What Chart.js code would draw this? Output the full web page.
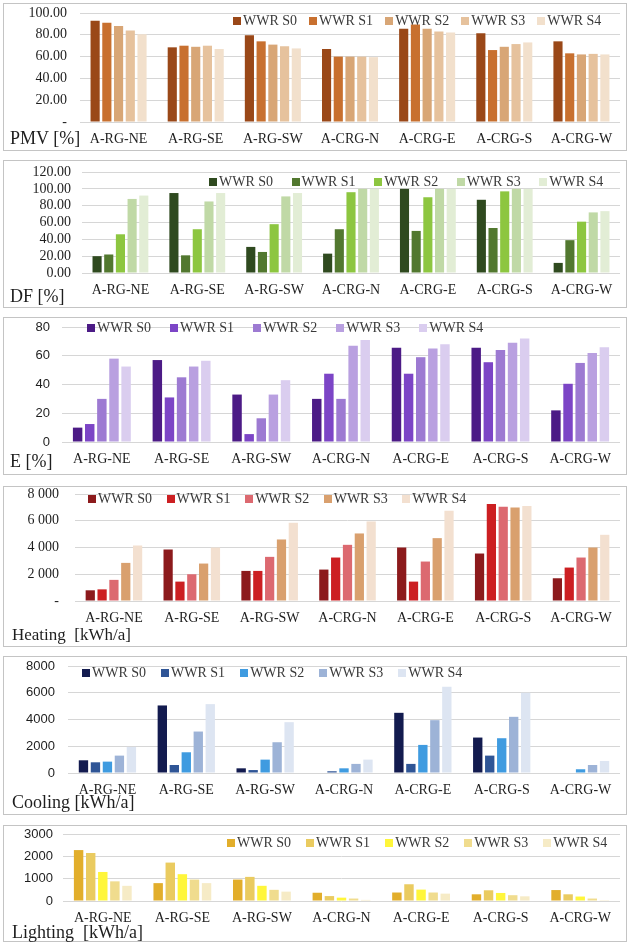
<!DOCTYPE html>
<html>
<head>
<meta charset="utf-8">
<script src="https://cdn.jsdelivr.net/npm/chart.js@4.4.1/dist/chart.umd.min.js"></script>
<style>
  body { margin: 0; background: #fff; width: 631px; height: 942px; position: relative; overflow: hidden; }
  .box { position: absolute; border: 1px solid #c4c4c4; box-sizing: border-box; }
  canvas { position: absolute; }
  .axisName { position: absolute; font-family: "Liberation Serif", serif; color: #1e1e1e; white-space: pre; line-height: 1; }
  .legend { position: absolute; display: flex; align-items: center; font: 14px "Liberation Serif", serif; color: #3a3a3a; white-space: nowrap; line-height: 1; }
  .legend .item { display: flex; align-items: center; }
  .legend .sw { width: 8px; height: 8px; margin-right: 2px; }
</style>
</head>
<body>
<script>
// Categories and series
const categories = ['A-RG-NE', 'A-RG-SE', 'A-RG-SW', 'A-CRG-N', 'A-CRG-E', 'A-CRG-S', 'A-CRG-W'];
const seriesNames = ['WWR S0', 'WWR S1', 'WWR S2', 'WWR S3', 'WWR S4'];

// PMV [%] — one row per WWR series, one value per category
const pmvValues = [
  [93, 68.5, 79.5, 67, 85.5, 81.5, 74],
  [91, 70, 74, 60, 89.5, 66, 63],
  [88, 69, 71, 60, 85.5, 69, 62],
  [84, 70, 69.5, 60, 83, 71.5, 62.5],
  [80.5, 67, 67.5, 59.5, 82, 73, 62]
];
// DF [%]
const dfValues = [
  [20, 95, 31, 23, 100, 87, 12],
  [22, 21, 25, 52, 50, 53.5, 39],
  [46, 52, 58, 96, 90, 97, 61],
  [88, 85, 91, 100, 100, 100, 72],
  [92, 95, 95, 100, 100, 100, 73.5]
];
// E [%]
const eValues = [
  [10, 57, 33, 30, 65.5, 65.5, 22],
  [12.5, 31, 5.5, 47.5, 47.5, 55.5, 40.5],
  [30, 45, 16.5, 30, 59, 64, 55],
  [58, 52.5, 33, 67, 65, 69, 62],
  [52.5, 56.5, 43, 71, 68, 72, 66]
];
// Heating [kWh/a]
const heatingValues = [
  [800, 3850, 2250, 2350, 4000, 3550, 1700],
  [870, 1450, 2250, 3250, 1450, 7250, 2500],
  [1580, 2000, 3300, 4200, 2950, 7050, 3250],
  [2850, 2800, 4600, 5050, 4700, 7000, 4000],
  [4150, 4000, 5850, 5950, 6750, 7100, 4950]
];
// Cooling [kWh/a]
const coolingValues = [
  [950, 5050, 350, 0, 4500, 2650, 0],
  [800, 600, 220, 130, 680, 1300, 0],
  [850, 1550, 1000, 350, 2100, 2600, 280],
  [1300, 3100, 2300, 680, 3950, 4200, 600],
  [1950, 5150, 3800, 1000, 6450, 6000, 900]
];
// Lighting [kWh/a]
const lightingValues = [
  [2280, 800, 960, 370, 380, 300, 490],
  [2150, 1720, 1080, 220, 750, 480, 300],
  [1300, 1200, 680, 150, 510, 360, 200],
  [880, 960, 500, 110, 380, 260, 110],
  [680, 800, 420, 50, 330, 210, 40]
];

// Palettes
const pmvColors = ['#9a4818', '#c8702f', '#d8a676', '#e6c29d', '#f2e0cc'];
const dfColors = ['#2f4a1f', '#52782f', '#8dc640', '#c0d9a6', '#e2edd5'];
const eColors = ['#4c1b86', '#7c45c6', '#9d7ad2', '#b9a0e0', '#dacdef'];
const heatingColors = ['#8c1a1c', '#cc1f22', '#dc6970', '#d9a06e', '#f3e0d0'];
const coolingColors = ['#131b4f', '#2f5596', '#3f9be0', '#9db3d7', '#dde5f2'];
const lightingColors = ['#e2ae2b', '#eacb60', '#fff63a', '#f0dc8e', '#f6ebc6'];

// Tick label formats
const fmt2 = v => v === 0 ? '-' : v.toFixed(2);
const fmt2zero = v => v.toFixed(2);
const fmtInt = v => String(v);
const fmtSpace = v => v === 0 ? '-' : String(v).replace(/\B(?=(\d{3})+(?!\d))/g, ' ');

const panels = [
  { name: 'PMV [%]', values: pmvValues, colors: pmvColors, max: 100, step: 20, fmt: fmt2,
    box: [3, 3, 624, 148], plot: [80, 13, 620, 122], yFont: 'Liberation Serif', yPad: 13,
    nameAt: [10, 129, 18], legendAt: [233, 21], legendGap: 12 },
  { name: 'DF [%]', values: dfValues, colors: dfColors, max: 120, step: 20, fmt: fmt2zero,
    box: [3, 160, 624, 148], plot: [82, 172, 620, 273], yFont: 'Liberation Serif', yPad: 11,
    nameAt: [10, 287, 18], legendAt: [209, 182], legendGap: 18.5 },
  { name: 'E [%]', values: eValues, colors: eColors, max: 80, step: 20, fmt: fmtInt,
    box: [3, 317, 624, 158], plot: [62, 327, 620, 442], yFont: 'Liberation Sans', yPad: 12,
    nameAt: [10, 452, 18], legendAt: [87, 328], legendGap: 19 },
  { name: 'Heating  [kWh/a]', values: heatingValues, colors: heatingColors, max: 8000, step: 2000, fmt: fmtSpace,
    box: [3, 486, 624, 161], plot: [75, 494, 620, 601], yFont: 'Liberation Serif', yPad: 16,
    nameAt: [12, 626, 17], legendAt: [88, 499], legendGap: 14.5 },
  { name: 'Cooling [kWh/a]', values: coolingValues, colors: coolingColors, max: 8000, step: 2000, fmt: fmtInt,
    box: [3, 656, 624, 159], plot: [68, 666, 620, 773], yFont: 'Liberation Sans', yPad: 13,
    nameAt: [12, 793, 18], legendAt: [82, 673], legendGap: 15 },
  { name: 'Lighting  [kWh/a]', values: lightingValues, colors: lightingColors, max: 3000, step: 1000, fmt: fmtInt,
    box: [3, 825, 624, 117], plot: [63, 834, 620, 901], yFont: 'Liberation Sans', yPad: 10,
    nameAt: [12, 923, 18], legendAt: [227, 843], legendGap: 15 }
];

// room above the plot area for the value scale's own label padding
const TOP_ROOM = 32;

function addEl(tag, cls, style, text) {
  const el = document.createElement(tag);
  if (cls) el.className = cls;
  Object.assign(el.style, style);
  if (text !== undefined) el.textContent = text;
  document.body.appendChild(el);
  return el;
}

panels.forEach(p => {
  const [bx, by, bw, bh] = p.box;
  const [pl, pt, pr, pb] = p.plot;
  addEl('div', 'box', { left: bx + 'px', top: by + 'px', width: bw + 'px', height: bh + 'px' });

  const cw = 631;
  const canvasTop = pt - TOP_ROOM;
  const ch = by + bh - canvasTop;
  const canvas = addEl('canvas', null, { left: '0px', top: canvasTop + 'px' });
  canvas.width = cw; canvas.height = ch;

  const xAxisHeight = by + bh - pb;
  const labelFont = { family: 'Liberation Serif', size: 14 };

  new Chart(canvas, {
    type: 'bar',
    data: {
      labels: categories,
      datasets: seriesNames.map((s, i) => ({
        label: s,
        data: p.values[i],
        backgroundColor: p.colors[i],
        borderWidth: 0,
        barPercentage: 0.78,
        categoryPercentage: 0.76
      }))
    },
    options: {
      responsive: false,
      animation: false,
      devicePixelRatio: 1,
      layout: { padding: { top: TOP_ROOM, right: cw - pr, left: 0, bottom: 0 } },
      plugins: { legend: { display: false }, tooltip: { enabled: false } },
      scales: {
        x: {
          grid: { display: false, drawTicks: false },
          border: { display: false },
          ticks: { autoSkip: false, maxRotation: 0, padding: 8.5, color: '#1e1e1e', font: labelFont },
          afterFit: s => { s.height = xAxisHeight; }
        },
        y: {
          min: 0, max: p.max,
          grid: { color: '#d6d6d6', lineWidth: 1, drawTicks: false },
          border: { display: false },
          ticks: { autoSkip: false, stepSize: p.step, padding: p.yPad, color: '#1e1e1e',
                   font: { family: p.yFont, size: p.yFont === 'Liberation Sans' ? 13 : 14 },
                   callback: v => p.fmt(v) },
          afterFit: s => { s.width = pl; }
        }
      }
    }
  });

  // axis name in the lower left corner
  const [nx, ny, nsz] = p.nameAt;
  addEl('div', 'axisName', { left: nx + 'px', top: ny + 'px', fontSize: nsz + 'px' }, p.name);

  // legend row
  const lg = addEl('div', 'legend', { left: p.legendAt[0] + 'px', top: (p.legendAt[1] - 7) + 'px', height: '14px' });
  seriesNames.forEach((s, i) => {
    const it = document.createElement('div');
    it.className = 'item';
    if (i < seriesNames.length - 1) it.style.marginRight = p.legendGap + 'px';
    const sw = document.createElement('span');
    sw.className = 'sw';
    sw.style.background = p.colors[i];
    it.appendChild(sw);
    it.appendChild(document.createTextNode(s));
    lg.appendChild(it);
  });
});
</script>
</body>
</html>
